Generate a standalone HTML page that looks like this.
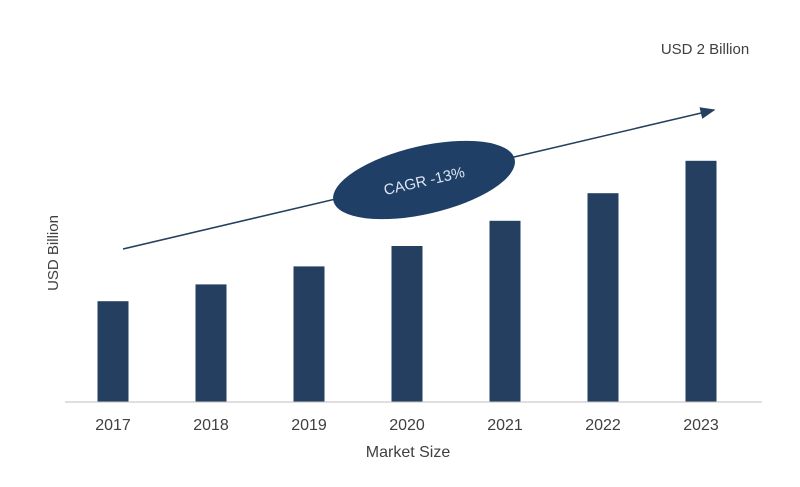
<!DOCTYPE html>
<html><head><meta charset="utf-8"><style>
body{margin:0;background:#fff;font-family:"Liberation Sans",sans-serif}
svg text{font-family:"Liberation Sans",sans-serif;fill:#404040}
</style></head><body>
<svg width="800" height="482">
<g id="bars"></g>
<line x1="65" y1="402" x2="762" y2="402" stroke="#bfbfbf" stroke-width="1"/>
<g id="ticks"></g>
<text x="408" y="457" text-anchor="middle" font-size="16">Market Size</text>
<text transform="translate(58,253) rotate(-90)" text-anchor="middle" font-size="15">USD Billion</text>
<text x="705" y="54" text-anchor="middle" font-size="15">USD 2 Billion</text>
<defs><marker id="ah" markerWidth="10" markerHeight="8" refX="9" refY="4" orient="auto"><path d="M0,0 L10,4 L0,8 Z" fill="#243f60"/></marker></defs>
<line x1="123" y1="249" x2="714" y2="110" stroke="#243f60" stroke-width="1.5" marker-end="url(#ah)"/>
<g transform="translate(424,180) rotate(-13)">
<ellipse cx="0" cy="0" rx="93" ry="34" fill="#1f3f66"/>
<text x="0" y="6" text-anchor="middle" font-size="15" style="fill:#dce6f2">CAGR -13%</text>
</g>
</svg>
<script>
const categories=["2017","2018","2019","2020","2021","2022","2023"];
const values=[0.84,0.98,1.13,1.30,1.51,1.74,2.01];
const x0=113,step=98,bw=31,base=402,pxPerUnit=120;
const xs=i=>x0+i*step;
const ys=v=>base-v*pxPerUnit;
const ns="http://www.w3.org/2000/svg";
const bg=document.getElementById('bars'),tg=document.getElementById('ticks');
categories.forEach((c,i)=>{
 const r=document.createElementNS(ns,'rect');
 r.setAttribute('x',xs(i)-bw/2);r.setAttribute('y',ys(values[i]));
 r.setAttribute('width',bw);r.setAttribute('height',base-ys(values[i]));
 r.setAttribute('fill','#243f60');
 
 
 bg.appendChild(r);
 const t=document.createElementNS(ns,'text');
 t.setAttribute('x',xs(i));t.setAttribute('y',430);t.setAttribute('text-anchor','middle');t.setAttribute('font-size','16');
 t.textContent=c;
 
 
 tg.appendChild(t);
});
</script>
</body></html>
